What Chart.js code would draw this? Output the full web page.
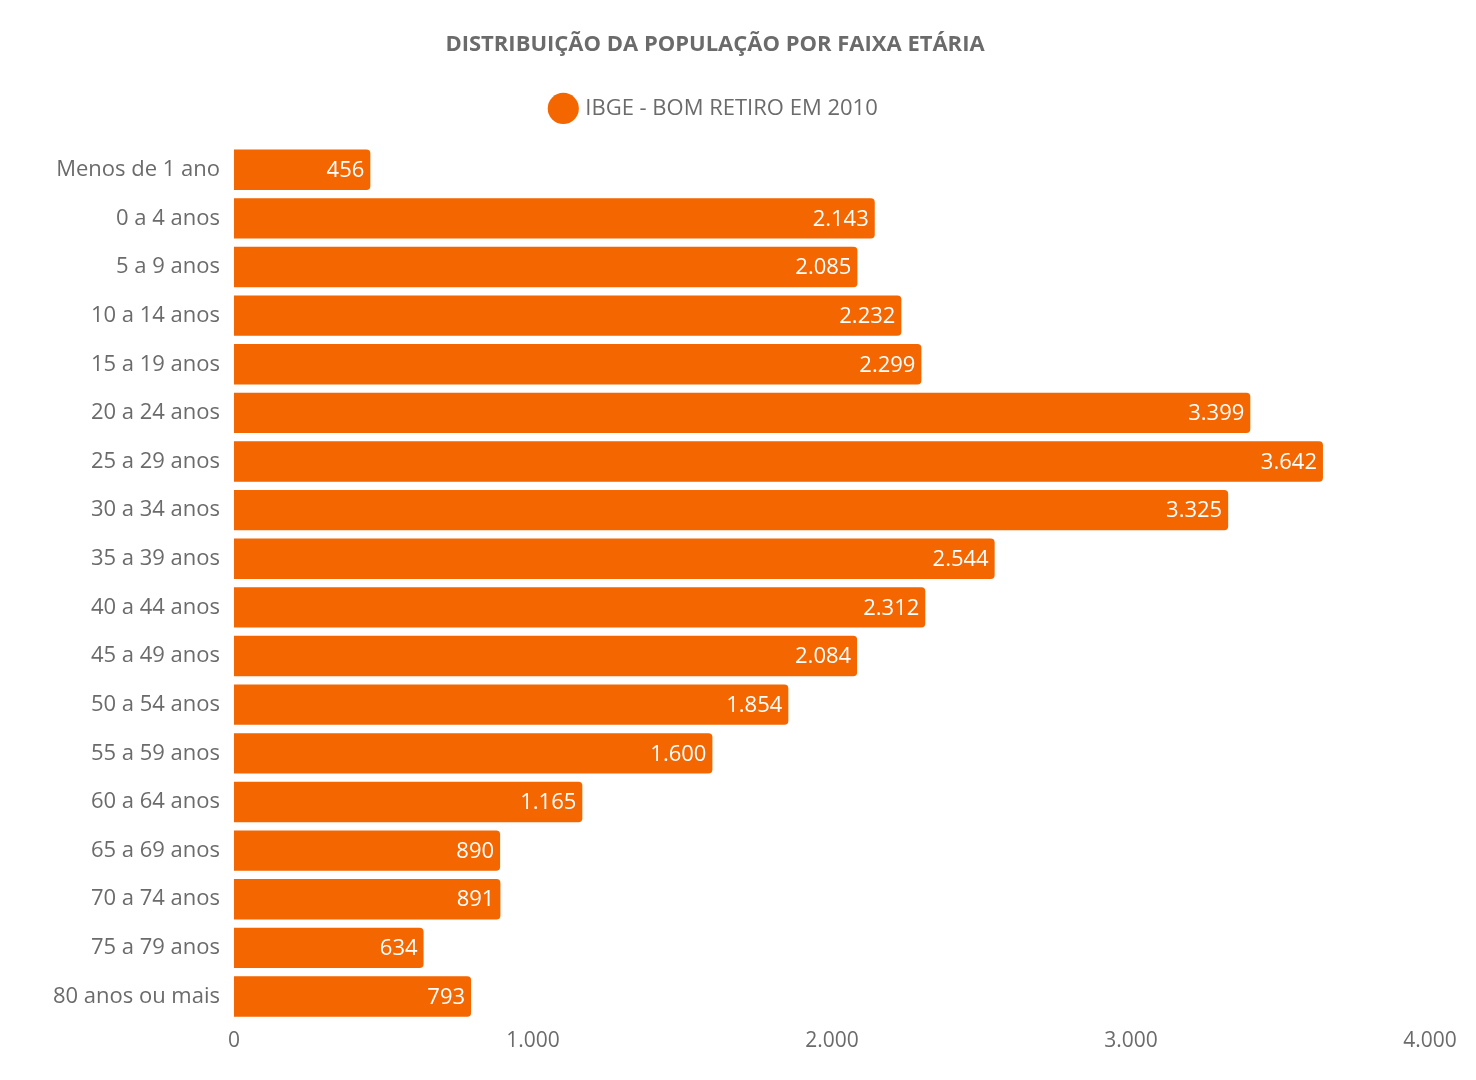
<!DOCTYPE html>
<html lang="pt-BR">
<head>
<meta charset="utf-8">
<title>Distribuição da população por faixa etária</title>
<script src="https://cdn.jsdelivr.net/npm/chart.js@4.4.1/dist/chart.umd.min.js"></script>
<style>
    html, body { margin: 0; padding: 0; background: #fff; }
    #wrap { width: 1476px; height: 1080px; }
</style>
</head>
<body>
<div id="wrap"><canvas id="chart"></canvas></div>
<script>
const faixas = [
    'Menos de 1 ano', '0 a 4 anos', '5 a 9 anos', '10 a 14 anos', '15 a 19 anos',
    '20 a 24 anos', '25 a 29 anos', '30 a 34 anos', '35 a 39 anos', '40 a 44 anos',
    '45 a 49 anos', '50 a 54 anos', '55 a 59 anos', '60 a 64 anos', '65 a 69 anos',
    '70 a 74 anos', '75 a 79 anos', '80 anos ou mais'
];
const populacao = [456, 2143, 2085, 2232, 2299, 3399, 3642, 3325, 2544, 2312, 2084, 1854, 1600, 1165, 890, 891, 634, 793];
const serieNome = 'IBGE - BOM RETIRO EM 2010';
const titulo = 'DISTRIBUIÇÃO DA POPULAÇÃO POR FAIXA ETÁRIA';

const FONT = '"Open Sans", "Noto Sans", sans-serif';
const ORANGE = '#F46600';
const GRAY = '#6b6b6b';

// formata com separador de milhar brasileiro
function fmt(v) {
    return String(Math.round(v)).replace(/\B(?=(\d{3})+(?!\d))/g, '.');
}

// rótulos brancos no fim de cada barra
const valueLabels = {
    id: 'valueLabels',
    afterDatasetsDraw(chart) {
        const ctx = chart.ctx;
        const meta = chart.getDatasetMeta(0);
        ctx.save();
        ctx.font = '22px ' + FONT;
        ctx.fillStyle = '#ffffff';
        ctx.textAlign = 'right';
        ctx.textBaseline = 'middle';
        meta.data.forEach((bar, i) => {
            ctx.fillText(fmt(chart.data.datasets[0].data[i]), bar.x - 6, bar.y + 1);
        });
        ctx.restore();
    }
};

// espaço extra abaixo da legenda
const legendGap = {
    id: 'legendGap',
    beforeInit(chart) {
        const fit = chart.legend.fit;
        chart.legend.fit = function () {
            fit.bind(chart.legend)();
            this.height += 16;
        };
    }
};

const ctx = document.getElementById('chart').getContext('2d');
new Chart(ctx, {
    type: 'bar',
    data: {
        labels: faixas,
        datasets: [{
            label: serieNome,
            data: populacao,
            backgroundColor: ORANGE,
            borderRadius: { topRight: 4, bottomRight: 4, topLeft: 0, bottomLeft: 0 },
            borderSkipped: false,
            categoryPercentage: 0.83,
            barPercentage: 1.0
        }]
    },
    options: {
        indexAxis: 'y',
        responsive: true,
        maintainAspectRatio: false,
        animation: false,
        layout: { padding: { top: 10, right: 46, bottom: 18, left: 0 } },
        plugins: {
            title: {
                display: true,
                text: titulo,
                color: GRAY,
                font: { family: FONT, size: 22, weight: 'bold' },
                padding: { top: 22, bottom: 19 }
            },
            legend: {
                display: true,
                position: 'top',
                labels: {
                    usePointStyle: true,
                    pointStyle: 'circle',
                    boxWidth: 22,
                    boxHeight: 22,
                    color: GRAY,
                    font: { family: FONT, size: 22 },
                    padding: 20
                }
            },
            tooltip: { enabled: false }
        },
        scales: {
            x: {
                min: 0,
                max: 4000,
                ticks: {
                    stepSize: 1000,
                    color: GRAY,
                    font: { family: FONT, size: 21 },
                    callback: v => fmt(v),
                    padding: 8,
                    maxRotation: 0
                },
                grid: { display: false, drawTicks: false },
                border: { display: false }
            },
            y: {
                ticks: {
                    color: GRAY,
                    font: { family: FONT, size: 22 },
                    padding: 14
                },
                grid: { display: false, drawTicks: false },
                border: { display: false },
                afterFit(scale) { scale.width = 234; }
            }
        }
    },
    plugins: [valueLabels, legendGap]
});
</script>
</body>
</html>
